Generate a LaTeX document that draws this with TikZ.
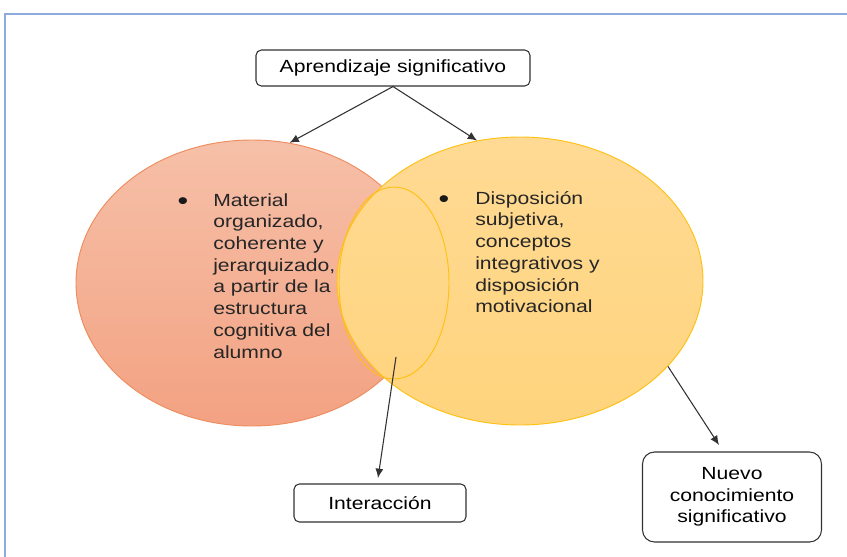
\documentclass[tikz,border=0pt]{standalone}
\usepackage{fontspec}
\setmainfont{Liberation Sans}[FakeStretch=1.2]
\usetikzlibrary{shapes.geometric,arrows.meta}
\definecolor{marco}{RGB}{143,170,220}
\definecolor{salmonA}{RGB}{246,192,168}
\definecolor{salmonB}{RGB}{243,162,130}
\definecolor{salmonBorde}{RGB}{238,140,95}
\definecolor{oroA}{RGB}{255,218,148}
\definecolor{oroB}{RGB}{255,212,125}
\definecolor{oroBorde}{RGB}{255,192,20}
\definecolor{gris}{RGB}{50,50,50}
\tikzset{
  caja/.style={draw=gris,rounded corners=4pt,fill=white,line width=0.8pt,inner sep=0pt,align=center},
  flecha/.style={-{Latex[length=7pt,width=6pt]},draw=gris,line width=0.8pt},
  texto/.style={anchor=north west,align=left,inner sep=0pt,text=black!85},
  punto/.style={text=black!90,inner sep=0pt,font=\fontsize{19}{19}\selectfont}
}
\begin{document}
\begin{tikzpicture}[x=0.75pt,y=-0.75pt,font=\fontsize{13.2}{16.3}\selectfont]
  \useasboundingbox (0,0) rectangle (847,557);
  \draw[marco,line width=1pt] (5,557) -- (5,14) -- (847,14);

  % los dos conjuntos
  \node[ellipse,inner sep=0pt,minimum width=0.75*352pt,minimum height=0.75*286pt,
        top color=salmonA,bottom color=salmonB,draw=salmonBorde,line width=0.7pt] (material) at (252,283) {};
  \node[ellipse,inner sep=0pt,minimum width=0.75*366pt,minimum height=0.75*288pt,
        top color=oroA,bottom color=oroB,draw=oroBorde,line width=0.7pt] (disposicion) at (520,281) {};
  \node[ellipse,inner sep=0pt,minimum width=0.75*110pt,minimum height=0.75*192pt,
        draw=oroBorde,line width=0.7pt] (cruce) at (394,283) {};

  \node[punto] (puntoA) at (183,204) {\textbullet};
  \node[texto] (textoA) at (213,193) {Material\\organizado,\\coherente y\\jerarquizado,\\a partir de la\\estructura\\cognitiva del\\alumno};
  \node[punto] (puntoB) at (444,202) {\textbullet};
  \node[texto] (textoB) at (475,191) {Disposición\\subjetiva,\\conceptos\\integrativos y\\disposición\\motivacional};

  \begin{scope}[every node/.style={caja}]
    \node[minimum width=0.75*274pt,minimum height=0.75*36pt] (aprendizaje) at (393,68) {Aprendizaje significativo};
    \node[minimum width=0.75*172pt,minimum height=0.75*38pt] (interaccion) at (380,503) {Interacción};
    \node[minimum width=0.75*179pt,minimum height=0.75*90pt,rounded corners=9pt] (nuevo) at (732,497) {Nuevo\\conocimiento\\significativo};
  \end{scope}

  \coordinate (centro) at (396,357);
  \coordinate (finI) at (378,478);
  \coordinate (finN) at (719,445);

  \foreach \destino in {material.75, disposicion.107} {
    \path (aprendizaje.south) edge [flecha] (\destino);
  }
  \path (centro) edge [flecha] (finI);
  \path (disposicion.-30) edge [flecha] (finN);
\end{tikzpicture}
\end{document}
